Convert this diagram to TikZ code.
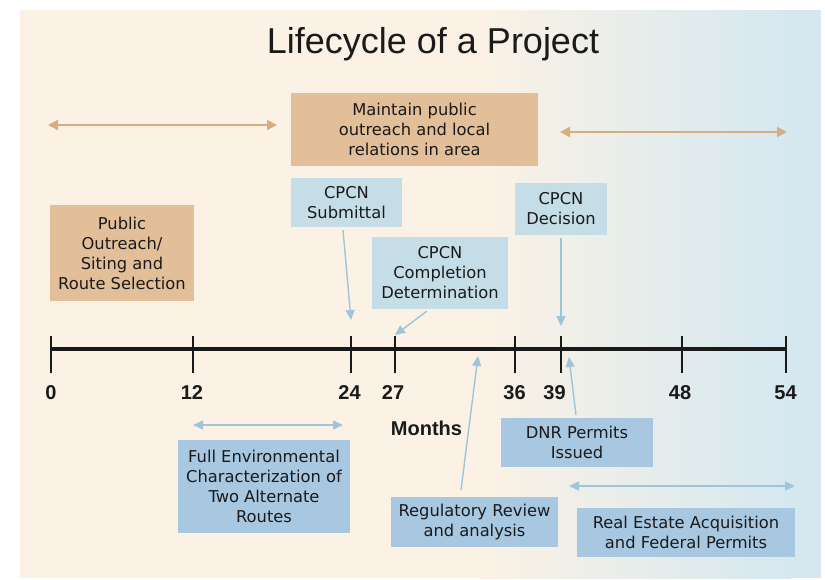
\documentclass[tikz,border=0pt]{standalone}
\usepackage{fontspec}
\setmainfont{Liberation Sans}
\newfontfamily\boxfont{DejaVu Sans}
\usetikzlibrary{arrows.meta}
\definecolor{cream}{HTML}{FBF2E5}
\definecolor{bgblue}{HTML}{D5E8F0}
\definecolor{tanbox}{HTML}{E2BF98}
\definecolor{tanarrow}{HTML}{D7AC80}
\definecolor{lightbox}{HTML}{C4DDE6}
\definecolor{midbox}{HTML}{A8C8E2}
\definecolor{bluearrow}{HTML}{9FC6D8}
\definecolor{txt}{HTML}{1A1A1A}
\tikzset{
  boxbase/.style={rectangle, inner sep=0pt, align=center, text=txt,
    font=\boxfont\fontsize{16.3}{20}\selectfont},
  tanstyle/.style={boxbase, fill=tanbox},
  lightstyle/.style={boxbase, fill=lightbox},
  midstyle/.style={boxbase, fill=midbox},
  tanspan/.style={draw=tanarrow, line width=2pt, {Triangle[length=10pt,width=10pt]}-{Triangle[length=10pt,width=10pt]}},
  bluespan/.style={draw=bluearrow, line width=1.6pt, {Triangle[length=10pt,width=9pt]}-{Triangle[length=10pt,width=9pt]}},
  pointer/.style={draw=bluearrow, line width=1.4pt, -{Triangle[length=10pt,width=9pt]}},
  ticklabel/.style={anchor=base, font=\bfseries\fontsize{20}{24}\selectfont, text=txt, inner sep=0pt},
  tickmark/.style={draw=txt, line width=2pt},
}
\begin{document}
\begin{tikzpicture}[x=1pt,y=-1pt]
\useasboundingbox (0,0) rectangle (825,579);
% background
\fill[white] (0,0) rectangle (825,579);
\fill[cream] (20,10) rectangle (481,578);
\shade[left color=cream, right color=bgblue] (480,10) rectangle (791,578);
\fill[bgblue] (790,10) rectangle (821,578);

% title
\node[anchor=base, font=\fontsize{36}{40}\selectfont, text=txt, inner sep=0pt] (title) at (433,53) {Lifecycle of a Project};

% boxes
\node[tanstyle, minimum width=247pt, minimum height=73pt] (maintain) at (414.5,129.5) {Maintain public\\outreach and local\\relations in area};
\node[tanstyle, minimum width=144pt, minimum height=96pt] (public) at (122,253) {Public\\Outreach/\\Siting and\\Route Selection};
\node[lightstyle, minimum width=111pt, minimum height=49pt] (submittal) at (346.5,202.5) {CPCN\\Submittal};
\node[lightstyle, minimum width=136pt, minimum height=72pt] (completion) at (440,273) {CPCN\\Completion\\Determination};
\node[lightstyle, minimum width=92pt, minimum height=52pt] (decision) at (561,209) {CPCN\\Decision};
\node[midstyle, minimum width=172pt, minimum height=93pt] (fullenv) at (264,486.5) {Full Environmental\\Characterization of\\Two Alternate\\Routes};
\node[midstyle, minimum width=167pt, minimum height=50pt] (regulatory) at (474.5,522) {Regulatory Review\\and analysis};
\node[midstyle, minimum width=152pt, minimum height=49pt] (dnr) at (577,442.5) {DNR Permits\\Issued};
\node[midstyle, minimum width=218pt, minimum height=49pt] (realestate) at (686,532.5) {Real Estate Acquisition\\and Federal Permits};

% span arrows
\coordinate (tl1) at (48,125);  \coordinate (tl2) at (277,125);
\coordinate (tr1) at (560,132); \coordinate (tr2) at (787,132);
\coordinate (fe1) at (193,425); \coordinate (fe2) at (343,425);
\coordinate (re1) at (569,486); \coordinate (re2) at (795,486);
\draw[tanspan] (tl1) -- (tl2);
\draw[tanspan] (tr1) -- (tr2);
\draw[bluespan] (fe1) -- (fe2);
\draw[bluespan] (re1) -- (re2);

% timeline
\coordinate (t0) at (51,349);
\coordinate (t54) at (786,349);
\draw[draw=txt, line width=4pt] (t0) -- (t54);
\foreach \x/\n/\lx in {51/0/51, 193/12/192, 351/24/349.5, 395/27/393, 515/36/514.5, 561/39/554.5, 682/48/680, 786/54/785.5}{
  \draw[tickmark] (\x,336) -- (\x,373);
  \node[ticklabel] (lab\n) at (\lx,399) {\n};
}
\node[ticklabel] (months) at (426.5,435) {Months};

% pointers
\coordinate (sub0) at (343,230); \coordinate (sub1) at (351,320);
\coordinate (com0) at (427,311); \coordinate (com1) at (395,335);
\coordinate (dec0) at (561,238); \coordinate (dec1) at (561,326);
\coordinate (reg0) at (461,490); \coordinate (reg1) at (478,356);
\coordinate (dnr0) at (576,415); \coordinate (dnr1) at (569,357);
\draw[pointer] (sub0) -- (sub1);
\draw[pointer] (com0) -- (com1);
\draw[pointer] (dec0) -- (dec1);
\draw[pointer] (reg0) -- (reg1);
\draw[pointer] (dnr0) -- (dnr1);
\end{tikzpicture}
\end{document}
